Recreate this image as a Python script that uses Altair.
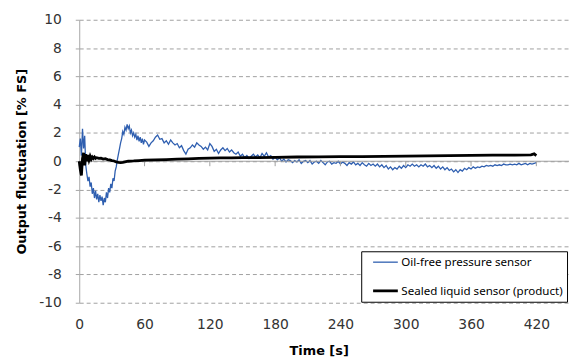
import altair as alt
import pandas as pd

# ---- data ----
series_names = ["Oil-free pressure sensor", "Sealed liquid sensor (product)"]
x_ticks = [0, 60, 120, 180, 240, 300, 360, 420]
y_ticks = [-10, -8, -6, -4, -2, 0, 2, 4, 6, 8, 10]

blue_t = list(range(0, 61)) + list(range(62, 421, 2))
blue_v = [
    1.0, 1.6, 0.4, 2.3, 0.9, 1.8, -0.3, -0.9, -1.4, -1.1, -1.8,
    -1.5, -2.3, -1.9, -2.6, -2.1, -2.7, -2.3, -2.9, -2.4, -2.8,
    -2.5, -3.1, -2.6, -2.9, -2.2, -2.6, -1.9, -2.2, -1.6, -1.9,
    -1.2, -1.4, -0.7, -0.4, 0.1, 0.5, 0.9, 1.3, 1.6, 2.1,
    1.9, 2.4, 2.2, 2.6, 2.3, 2.5, 2.0, 2.2, 1.8, 2.0,
    1.7, 1.9, 1.5, 1.8, 1.4, 1.7, 1.3, 1.6, 1.2, 1.5,
    1.35, 1.05, 1.30, 1.45, 1.70, 1.85, 1.55, 1.60, 1.30, 1.45,
    1.20, 1.50, 1.30, 1.15, 1.25, 0.95, 1.10, 0.75, 0.50, 0.85,
    0.95, 1.15, 1.00, 1.30, 1.15, 1.05, 0.85, 1.00, 0.80, 1.25,
    1.05, 0.70, 0.85, 0.55, 0.80, 0.95, 0.75, 0.90, 0.65, 0.80,
    0.60, 0.50, 0.65, 0.35, 0.50, 0.25, 0.40, 0.20, 0.35, 0.50,
    0.30, 0.45, 0.25, 0.55, 0.35, 0.60, 0.30, 0.40, 0.15, 0.30,
    0.10, 0.25, 0.00, 0.15, -0.05, 0.10, 0.05, -0.10, 0.05, -0.05,
    0.10, -0.15, 0.00, 0.05, -0.10, 0.05, -0.20, -0.05, 0.00, -0.15,
    0.05, -0.10, -0.25, -0.05, 0.00, -0.20, -0.10, -0.15, 0.00, -0.20,
    -0.05, -0.15, -0.30, -0.10, -0.20, -0.05, -0.25, -0.15, -0.30, -0.10,
    -0.25, -0.35, -0.15, -0.30, -0.20, -0.35, -0.20, -0.40, -0.25, -0.45,
    -0.30, -0.55, -0.40, -0.60, -0.45, -0.55, -0.35, -0.50, -0.30, -0.45,
    -0.25, -0.35, -0.20, -0.35, -0.25, -0.40, -0.25, -0.35, -0.20, -0.40,
    -0.30, -0.45, -0.30, -0.50, -0.35, -0.55, -0.40, -0.60, -0.45, -0.65,
    -0.55, -0.75, -0.60, -0.80, -0.60, -0.70, -0.50, -0.60, -0.45, -0.55,
    -0.40, -0.50, -0.40, -0.45, -0.35, -0.40, -0.30, -0.35, -0.30, -0.35,
    -0.25, -0.30, -0.25, -0.30, -0.20, -0.25, -0.25, -0.20, -0.25, -0.20,
    -0.25, -0.15, -0.25, -0.20, -0.15, -0.25, -0.15, -0.20, -0.15, -0.10,
]

black_t = [0, 1, 2, 3, 4, 5, 6, 7, 8, 9, 10, 11, 12, 13, 14, 15, 16, 18, 20,
           22, 24, 26, 28, 30, 32, 34, 36, 38, 40, 42, 45, 50, 55, 60, 70,
           80, 90, 100, 110, 120, 130, 140, 150, 165, 180, 200, 220, 240,
           260, 280, 300, 320, 340, 360, 380, 400, 415, 418, 420]
black_v = [0.0, -0.6, -1.0, 0.2, 0.6, -0.3, 0.5, 0.0, 0.45, 0.1, 0.35, 0.15,
           0.3, 0.2, 0.3, 0.2, 0.25, 0.2, 0.22, 0.15, 0.18, 0.12, 0.1, 0.05,
           0.02, -0.05, -0.08, -0.1, -0.08, -0.05, 0.0, 0.02, 0.05, 0.08,
           0.1, 0.12, 0.15, 0.17, 0.2, 0.22, 0.23, 0.24, 0.25, 0.26, 0.28,
           0.3, 0.31, 0.32, 0.33, 0.35, 0.36, 0.38, 0.4, 0.42, 0.43, 0.44,
           0.45, 0.52, 0.4]

colors = ["#2f5fb0", "#000000"]
widths = [1.3, 2.8]
FONT = "DejaVu Sans"

df_blue = pd.DataFrame({"t": blue_t, "v": blue_v, "series": series_names[0]})
df_black = pd.DataFrame({"t": black_t, "v": black_v, "series": series_names[1]})
df_ticks = pd.DataFrame({"t": x_ticks})
df_zero = pd.DataFrame({"t": [0], "t2": [450]})

x_axis = alt.Axis(values=x_ticks, title="Time [s]", domain=False, ticks=False,
                  grid=False, labelPadding=15, titlePadding=13, labelOverlap=False,
                  labelFlush=False, titleX=242, titleAlign="center",
                  labelFont=FONT, labelFontSize=14, labelColor="#333333",
                  titleFont=FONT, titleFontSize=13, titleFontWeight="bold",
                  titleColor="#000000")
x_scale = alt.Scale(domain=[0, 450], nice=False, zero=False)
y_axis = alt.Axis(values=y_ticks, title="Output fluctuation [% FS]",
                  labelExpr="'' + datum.value", labelOverlap=False,
                  grid=True, gridDash=[4, 3], gridColor="#a0a0a0",
                  domainColor="#a6a6a6", tickColor="#a6a6a6", tickSize=4,
                  labelPadding=14, titlePadding=10,
                  labelFont=FONT, labelFontSize=14, labelColor="#333333",
                  titleFont=FONT, titleFontSize=13, titleFontWeight="bold",
                  titleColor="#000000")
y_scale = alt.Scale(domain=[-10, 10], nice=False)

def X():
    return alt.X("t:Q", scale=x_scale, axis=x_axis)

def Y():
    return alt.Y("v:Q", scale=y_scale, axis=y_axis)

legend = alt.Legend(
    title=None, orient="none", legendX=285, legendY=234,
    strokeColor="#000000", fillColor="#ffffff", padding=4,
    symbolType="M-2,0H2", symbolSize=156, symbolOffset=12.5, rowPadding=14,
    labelFont="Noto Sans", labelFontSize=11.7, labelColor="#000000",
    labelOffset=8, labelLimit=400,
)
color = alt.Color("series:N", scale=alt.Scale(domain=series_names, range=colors),
                  legend=legend)
sw = alt.StrokeWidth("series:N", scale=alt.Scale(domain=series_names, range=widths),
                     legend=legend)

zero_line = alt.Chart(df_zero).mark_rule(color="#a0a0a0", strokeWidth=1).encode(
    x=X(), x2="t2:Q", y=alt.Y(datum=0, scale=y_scale, axis=y_axis)
)
tick_marks = alt.Chart(df_ticks).mark_rule(color="#a0a0a0", strokeWidth=1).encode(
    x=X(), y=alt.Y(datum=0, scale=y_scale, axis=y_axis), y2=alt.datum(-0.35)
)
blue = alt.Chart(df_blue).mark_line(interpolate="linear").encode(
    x=X(), y=Y(), color=color, strokeWidth=sw
)
black = alt.Chart(df_black).mark_line(interpolate="linear").encode(
    x=X(), y=Y(), color=color, strokeWidth=sw
)

chart = alt.layer(blue, zero_line, tick_marks, black).properties(
    width=495, height=286,
    autosize=alt.AutoSizeParams(type="none"),
    padding={"left": 72, "top": 10, "right": 0, "bottom": 56},
).configure_view(stroke=None).configure_axis(labelOverlap=False)

chart.save("out.html", embed_options={"renderer": "svg", "actions": False})
